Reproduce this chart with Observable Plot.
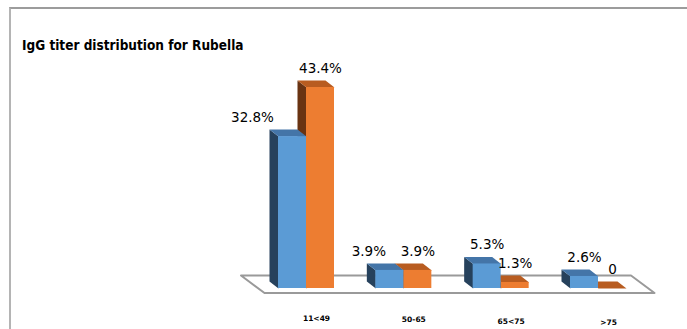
<!DOCTYPE html>
<html>
<head>
<meta charset="utf-8">
<script src="https://cdn.jsdelivr.net/npm/d3@7"></script>
<script src="https://cdn.jsdelivr.net/npm/@observablehq/plot@0.6"></script>
<style>
  html, body { margin: 0; padding: 0; background: #fff; }
  #wrap { position: relative; width: 687px; height: 329px; overflow: hidden; background: #fff; }
  #frame { position: absolute; left: 9px; top: 7px; width: 760px; height: 400px;
           border-top: 2px solid #9c9c9c; border-left: 2px solid #b4b4b4; }
  #title { position: absolute; left: 22px; top: 37px; font-family: "DejaVu Sans Condensed", "DejaVu Sans", sans-serif;
           font-weight: bold; font-size: 13.5px; line-height: 16px; color: #000; white-space: nowrap; }
  #chart { position: absolute; left: 0; top: 0; }
</style>
</head>
<body>
<div id="wrap">
  <div id="frame"></div>
  <div id="chart"></div>
  <div id="title">IgG titer distribution for Rubella</div>
</div>
<script>
// ---- data ----
const categories = ["11<49", "50-65", "65<75", ">75"];
const blueValues = [32.8, 3.9, 5.3, 2.6];
const orangeValues = [43.4, 3.9, 1.3, 0];

// ---- geometry helpers (in scale units) ----
const PX = 97.33;          // pixels per category step
const PY = 4.631;          // pixels per percent
const W = 28 / PX;         // bar width
const DX = -9 / PX;        // depth offset x
const DY = 7 / PY;         // depth offset y

const colors = {
  blue:   {front: "#5B9BD5", top: "#4475A8", side: "#26415C"},
  orange: {front: "#ED7D31", top: "#B85C20", side: "#693312"}
};

function bars(values, left) {
  return values.map((v, i) => ({i, cat: categories[i], v, x0: left ? i - W : i}));
}
const blueBars = bars(blueValues, true);
const orangeBars = bars(orangeValues, false);

function sidePts(bs) {
  return bs.flatMap(b => [
    {id: b.i, x: b.x0, y: 0}, {id: b.i, x: b.x0, y: b.v},
    {id: b.i, x: b.x0 + DX, y: b.v + DY}, {id: b.i, x: b.x0 + DX, y: DY}
  ]);
}
function topPts(bs) {
  return bs.flatMap(b => [
    {id: b.i, x: b.x0, y: b.v}, {id: b.i, x: b.x0 + W, y: b.v},
    {id: b.i, x: b.x0 + W + DX, y: b.v + DY}, {id: b.i, x: b.x0 + DX, y: b.v + DY}
  ]);
}

// floor parallelogram
const FX0 = (264 - 306) / PX, FX1 = (654 - 306) / PX, FY = (288 - 292.5) / PY;
const FDX = -23.5 / PX, FDY = 17.5 / PY;
const floor = [
  {x: FX0, y: FY}, {x: FX1, y: FY}, {x: FX1 + FDX, y: FY + FDY}, {x: FX0 + FDX, y: FY + FDY}
];

const fmt = v => v === 0 ? "0" : v.toFixed(1) + "%";
const labels = [
  ...orangeBars.map(b => ({x: b.x0 + W / 2, y: b.v, t: fmt(b.v), shift: 0})),
  ...blueBars.map((b, k) => {
    const o = orangeValues[k];
    const shift = o > b.v ? -40 : (o === b.v ? -21 : 0);
    return {x: b.x0 + W / 2, y: b.v, t: fmt(b.v), shift};
  })
];
const catLabels = categories.map((c, i) => ({x: i, y: -6.6 - i * 0.22, t: c}));

const face = (pts, color) => Plot.line(pts, {x: "x", y: "y", z: "id", fill: color, stroke: "none", curve: "linear-closed"});
const front = (bs, color) => Plot.rect(bs, {x1: "x0", x2: d => d.x0 + W, y1: 0, y2: "v", fill: color});

const chart = Plot.plot({
  width: 687,
  height: 329,
  style: {fontFamily: "DejaVu Sans, sans-serif", background: "transparent", overflow: "visible"},
  x: {type: "linear", domain: [0, 3], range: [306, 306 + 3 * PX], axis: null},
  y: {type: "linear", domain: [0, 50], range: [288, 288 - 50 * PY], axis: null},
  marks: [
    Plot.line(floor, {x: "x", y: "y", fill: "#fff", stroke: "#9a9a9a", strokeWidth: 2, curve: "linear-closed"}),
    face(sidePts(orangeBars), colors.orange.side),
    face(topPts(orangeBars), colors.orange.top),
    front(orangeBars, colors.orange.front),
    face(sidePts(blueBars), colors.blue.side),
    face(topPts(blueBars), colors.blue.top),
    front(blueBars, colors.blue.front),
    Plot.text(labels.filter(d => d.shift === 0), {x: "x", y: "y", text: "t", dy: -19, lineAnchor: "middle", fontSize: 13.5, fill: "#000"}),
    Plot.text(labels.filter(d => d.shift === -40), {x: "x", y: "y", text: "t", dy: -19, dx: -40, lineAnchor: "middle", fontSize: 13.5, fill: "#000"}),
    Plot.text(labels.filter(d => d.shift === -21), {x: "x", y: "y", text: "t", dy: -19, dx: -21, lineAnchor: "middle", fontSize: 13.5, fill: "#000"}),
    Plot.text(catLabels, {x: "x", y: "y", text: "t", dx: 10, lineAnchor: "middle", fontSize: 7.5, fontWeight: "bold", fill: "#000"})
  ]
});
document.getElementById("chart").appendChild(chart);
</script>
</body>
</html>
